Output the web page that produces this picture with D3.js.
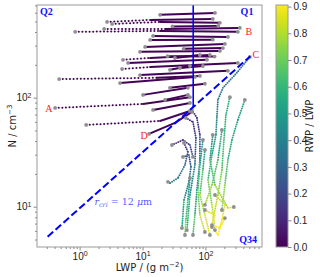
<!DOCTYPE html>
<html>
<head>
<meta charset="utf-8">
<script src="https://cdn.jsdelivr.net/npm/d3@7"></script>
<style>
  body { margin: 0; background: #fff; }
  svg { display: block; font-family: "DejaVu Sans", sans-serif; }
</style>
</head>
<body>
<div id="chart"></div>
<script>
// each point: [LWP (g m-2), N (cm-3), RWP/LWP]
const cloudTracks = [
    [[2.73, 495, 0], [13.2, 516, 0], [131, 527, 0.01]],
    [[3.28, 474, 0], [19.0, 495, 0], [170, 485, 0.01]],
    [[2.45, 427, 0], [22.8, 427, 0], [353, 436, 0.01]],
    [[0.85, 401, 0], [19.0, 409, 0], [328, 401, 0.01]],
    [[14.7, 368, 0], [228, 360, 0.01]],
    [[11.0, 292, 0], [204, 311, 0.01]],
    [[9.13, 263, 0], [170, 268, 0.01]],
    [[4.9, 222, 0], [13.2, 231, 0], [118, 246, 0.01]],
    [[5.89, 208, 0], [106, 222, 0.01]],
    [[4.73, 183, 0], [13.2, 191, 0], [328, 208, 0.01]],
    [[9.13, 161, 0], [228, 176, 0.01]],
    [[0.473, 148, 0], [17.0, 152, 0], [81.8, 158, 0.01]],
    [[4.39, 136, 0], [68.1, 155, 0.01]],
    [[10.2, 106, 0], [52.7, 123, 0.01]],
    [[0.408, 80.4, 0], [10.2, 87.5, 0], [56.8, 101, 0.02]],
    [[14.7, 77.1, 0], [56.8, 89.4, 0.02]],
    [[1.27, 56.2, 0], [19.0, 61.1, 0], [56.8, 75.5, 0.03]],
    [[12.7, 46.5, 0], [32.8, 58.6, 0.01], [61.1, 73.9, 0.03]],
    [[19.0, 574, 0], [142, 598, 0.01]],
    [[13.2, 338, 0], [131, 340, 0.01]],
    [[27.3, 123, 0], [98.2, 134, 0.01]],
    [[39.4, 187, 0], [91.2, 195, 0.01]],
    [[30, 450, 0], [160, 455, 0.01]],
    [[45, 280, 0], [190, 285, 0.01]],
    [[25, 240, 0], [140, 238, 0.01]],
    [[22.8, 95.3, 0], [52.7, 106, 0.02]],
    [[27.3, 180, 0], [56.8, 195, 0.01]],
    [[32.8, 231, 0], [81.8, 246, 0.01]]
];

const rainTracks = [
    [[29.4, 36.8, 0.1], [44.0, 40.9, 0.12], [56.8, 36.8, 0.16], [63.4, 28.6, 0.22]],
    [[44.0, 28.6, 0.2], [54.7, 29.8, 0.22], [58.9, 23.1, 0.28], [54.7, 16.9, 0.36], [45.6, 11.5, 0.46], [42.4, 6.38, 0.62]],
    [[45.6, 38.4, 0.12], [52.7, 31.8, 0.18], [47.3, 24.1, 0.28], [36.6, 18.3, 0.36], [27.3, 16.5, 0.4], [25.4, 16.9, 0.42]],
    [[61.1, 77.1, 0.05], [73.3, 65.2, 0.1], [81.8, 45.5, 0.18], [81.8, 26.8, 0.3], [73.3, 14.2, 0.46], [68.1, 8.39, 0.6], [63.4, 5.5, 0.72]],
    [[49.0, 65.2, 0.05], [63.4, 59.8, 0.1], [70.7, 42.7, 0.18], [68.1, 24.1, 0.35], [56.8, 12.8, 0.5], [50.8, 6.11, 0.65]],
    [[509, 236, 0.3], [316, 169, 0.33], [190, 123, 0.35], [158, 95.3, 0.36], [152, 65.2, 0.38], [147, 45.5, 0.45], [127, 29.8, 0.55], [110, 17.6, 0.65], [127, 10.4, 0.78], [142, 6.11, 0.85]],
    [[424, 95.3, 0.5], [328, 62.4, 0.52], [264, 40.9, 0.55], [228, 26.8, 0.6], [204, 15.8, 0.7], [183, 9.33, 0.8]],
    [[245, 101, 0.55], [212, 69.4, 0.57], [197, 40.9, 0.6], [183, 21.7, 0.68], [158, 12.8, 0.78], [127, 6.79, 0.87]],
    [[98.2, 33.1, 0.5], [91.2, 21.7, 0.6], [81.8, 12.8, 0.72], [98.2, 8.39, 0.85], [118, 5.5, 0.88]],
    [[142, 12.8, 0.8], [204, 10.4, 0.87], [183, 7.55, 0.9], [158, 5.5, 0.9], [127, 6.5, 0.9]],
    [[131, 45.5, 0.45], [118, 26.8, 0.58], [142, 15.8, 0.7], [228, 9.73, 0.85], [283, 9.94, 0.87]],
    [[91.2, 40.9, 0.45], [81.8, 24.1, 0.55], [76.0, 14.2, 0.65], [81.8, 8.39, 0.8], [98.2, 5.86, 0.88]],
    [[183, 50.5, 0.5], [158, 26.8, 0.6], [127, 15.8, 0.72], [98.2, 10.4, 0.82]],
    [[56.8, 18.3, 0.4], [52.7, 11.5, 0.55], [49.0, 7.55, 0.7], [47.3, 5.5, 0.75]],
    [[98.2, 9.33, 0.85], [142, 8.39, 0.9], [127, 6.79, 0.9], [170, 6.37, 0.9], [204, 7.87, 0.88]]
];

const critLine = [[0.31, 5.3], [518, 240]];
const critLWP = 64;
const critLWPFrom = 82;
const pointLabels = [['A', 0.324, 78.8], ['B', 490, 406], ['C', 634, 249], ['D', 10.6, 44.5]];
const critText = [1.72, 10.4];
const xTicks = [1, 10, 100];
const yTicks = [10, 100];
const cbarTicks = [0, 0.1, 0.2, 0.3, 0.4, 0.5, 0.6, 0.7, 0.8, 0.9];

(function() {
    let plot = {left: 37, right: 262, top: 5, bottom: 247};
    let svg = d3.select('#chart').append('svg')
        .attr('width', 320)
        .attr('height', 277);

    let x = d3.scaleLog().domain([0.21, 794]).range([plot.left, plot.right]);
    let y = d3.scaleLog().domain([4.27, 707]).range([plot.bottom, plot.top]);
    let color = d3.scaleSequential(d3.interpolateViridis).domain([0, 0.906]);
    let line = d3.line().x(d => x(d[0])).y(d => y(d[1]));

    svg.append('clipPath').attr('id', 'clip')
        .append('rect')
        .attr('x', plot.left).attr('y', plot.top)
        .attr('width', plot.right - plot.left)
        .attr('height', plot.bottom - plot.top);

    let g = svg.append('g').attr('clip-path', 'url(#clip)');

    function drawTrack(t, rain) {
        g.append('path')
            .datum(t)
            .attr('d', line)
            .attr('fill', 'none')
            .attr('stroke', rain ? '#e4e4e4' : '#d4d4d4')
            .attr('stroke-width', 0.6);
        d3.pairs(t).forEach(([a, b], i) => {
            let sparse = !rain && i === 0 && t.length > 2 && t[0][0] < 8;
            g.append('path')
                .datum([a, b])
                .attr('d', line)
                .attr('fill', 'none')
                .attr('stroke', color((a[2] + b[2]) / 2))
                .attr('stroke-linecap', 'round')
                .attr('stroke-width', rain ? 1.9 : 2)
                .attr('stroke-dasharray', sparse ? '0 3.6' : (rain ? '0 2.3' : null));
        });
    }

    cloudTracks.forEach(t => drawTrack(t, false));
    rainTracks.forEach(t => drawTrack(t, true));

    let ends = [];
    cloudTracks.concat(rainTracks).forEach(t => {
        ends.push(t[0]);
        ends.push(t[t.length - 1]);
    });
    g.selectAll('.end')
        .data(ends)
        .enter()
        .append('circle')
        .attr('class', 'end')
        .attr('cx', d => x(d[0]))
        .attr('cy', d => y(d[1]))
        .attr('r', 1.9)
        .attr('fill', '#8f8f8f');

    // r_cri line and the LWP threshold
    g.append('path')
        .datum(critLine)
        .attr('d', line)
        .attr('stroke', '#0000ff')
        .attr('stroke-width', 2)
        .attr('stroke-dasharray', '7.4 3.2')
        .attr('fill', 'none');
    g.append('line')
        .attr('x1', x(critLWP)).attr('x2', x(critLWP))
        .attr('y1', y(critLWPFrom)).attr('y2', plot.top)
        .attr('stroke', '#0000ff')
        .attr('stroke-width', 1.6);

    let rt = svg.append('text')
        .attr('x', x(critText[0]))
        .attr('y', y(critText[1]))
        .attr('fill', '#5a5aff')
        .attr('font-family', 'DejaVu Serif, serif')
        .attr('font-size', 9.5);
    rt.append('tspan').attr('font-style', 'italic').text('r');
    rt.append('tspan').attr('font-style', 'italic').attr('font-size', 6.5).attr('dy', 2).text('cri');
    rt.append('tspan').attr('dy', -2).text(' = 12 ');
    rt.append('tspan').attr('font-style', 'italic').text('μ');
    rt.append('tspan').text('m');

    svg.selectAll('.plabel')
        .data(pointLabels)
        .enter()
        .append('text')
        .attr('x', d => x(d[1]))
        .attr('y', d => y(d[2]))
        .attr('text-anchor', 'middle')
        .attr('dominant-baseline', 'central')
        .attr('fill', '#ff1a1a')
        .attr('font-family', 'Liberation Serif, serif')
        .attr('font-size', 10)
        .text(d => d[0]);

    let q = [['Q2', plot.left + 3, plot.top + 10, 'start'],
             ['Q1', 247, plot.top + 10, 'middle'],
             ['Q34', plot.right - 5, plot.bottom - 4, 'end']];
    svg.selectAll('.qlabel')
        .data(q)
        .enter()
        .append('text')
        .attr('x', d => d[1])
        .attr('y', d => d[2])
        .attr('text-anchor', d => d[3])
        .attr('fill', '#1010ff')
        .attr('font-weight', 'bold')
        .attr('font-family', 'Liberation Serif, serif')
        .attr('font-size', 10)
        .text(d => d[0]);

    // axes
    function pow10(sel) {
        sel.selectAll('.tick text').each(function(d) {
            let t = d3.select(this).text('');
            t.append('tspan').text('10');
            t.append('tspan').attr('dy', '-0.45em').attr('font-size', 7).text(Math.round(Math.log10(d)));
        });
    }
    function styleAxis(a) {
        a.select('.domain').remove();
        a.selectAll('.tick line').attr('stroke', '#888');
        a.selectAll('.tick text').attr('fill', '#222').attr('font-size', 10);
    }

    let xMinor = x.ticks().filter(v => !xTicks.includes(v));
    let yMinor = y.ticks().filter(v => !yTicks.includes(v));

    let xa = svg.append('g').attr('transform', `translate(0,${plot.bottom})`)
        .call(d3.axisBottom(x).tickValues(xTicks).tickSize(3.5).tickPadding(2));
    pow10(xa); styleAxis(xa);
    let xm = svg.append('g').attr('transform', `translate(0,${plot.bottom})`)
        .call(d3.axisBottom(x).tickValues(xMinor).tickSize(2).tickFormat(''));
    styleAxis(xm);

    let ya = svg.append('g').attr('transform', `translate(${plot.left},0)`)
        .call(d3.axisLeft(y).tickValues(yTicks).tickSize(3.5).tickPadding(2));
    pow10(ya); styleAxis(ya);
    let ym = svg.append('g').attr('transform', `translate(${plot.left},0)`)
        .call(d3.axisLeft(y).tickValues(yMinor).tickSize(2).tickFormat(''));
    styleAxis(ym);

    svg.append('rect')
        .attr('x', plot.left).attr('y', plot.top)
        .attr('width', plot.right - plot.left)
        .attr('height', plot.bottom - plot.top)
        .attr('fill', 'none')
        .attr('stroke', '#999');

    let xl = svg.append('text')
        .attr('x', (plot.left + plot.right) / 2)
        .attr('y', 271)
        .attr('text-anchor', 'middle')
        .attr('fill', '#222')
        .attr('font-size', 10);
    xl.append('tspan').text('LWP / (g m');
    xl.append('tspan').attr('dy', -4).attr('font-size', 7).text('−2');
    xl.append('tspan').attr('dy', 4).text(')');

    let yl = svg.append('text')
        .attr('transform', `translate(16,${(plot.top + plot.bottom) / 2}) rotate(-90)`)
        .attr('text-anchor', 'middle')
        .attr('fill', '#222')
        .attr('font-size', 10);
    yl.append('tspan').text('N / cm');
    yl.append('tspan').attr('dy', -4).attr('font-size', 7).text('−3');

    // colorbar
    let cb = {left: 276, right: 288};
    let grad = svg.append('defs').append('linearGradient')
        .attr('id', 'cbar')
        .attr('x1', 0).attr('y1', 1).attr('x2', 0).attr('y2', 0);
    d3.range(0, 1.0001, 0.05).forEach(s => {
        grad.append('stop').attr('offset', s).attr('stop-color', d3.interpolateViridis(s));
    });
    svg.append('rect')
        .attr('x', cb.left).attr('y', plot.top)
        .attr('width', cb.right - cb.left)
        .attr('height', plot.bottom - plot.top)
        .attr('fill', 'url(#cbar)')
        .attr('stroke', '#999');
    let cy = d3.scaleLinear().domain(color.domain()).range([plot.bottom, plot.top]);
    let ca = svg.append('g').attr('transform', `translate(${cb.right},0)`)
        .call(d3.axisRight(cy).tickValues(cbarTicks).tickSize(3.5).tickPadding(2).tickFormat(d3.format('.1f')));
    styleAxis(ca);

    svg.append('text')
        .attr('transform', `translate(313,${(plot.top + plot.bottom) / 2}) rotate(-90)`)
        .attr('text-anchor', 'middle')
        .attr('fill', '#222')
        .attr('font-size', 10)
        .text('RWP / LWP');
})();
</script>
</body>
</html>
